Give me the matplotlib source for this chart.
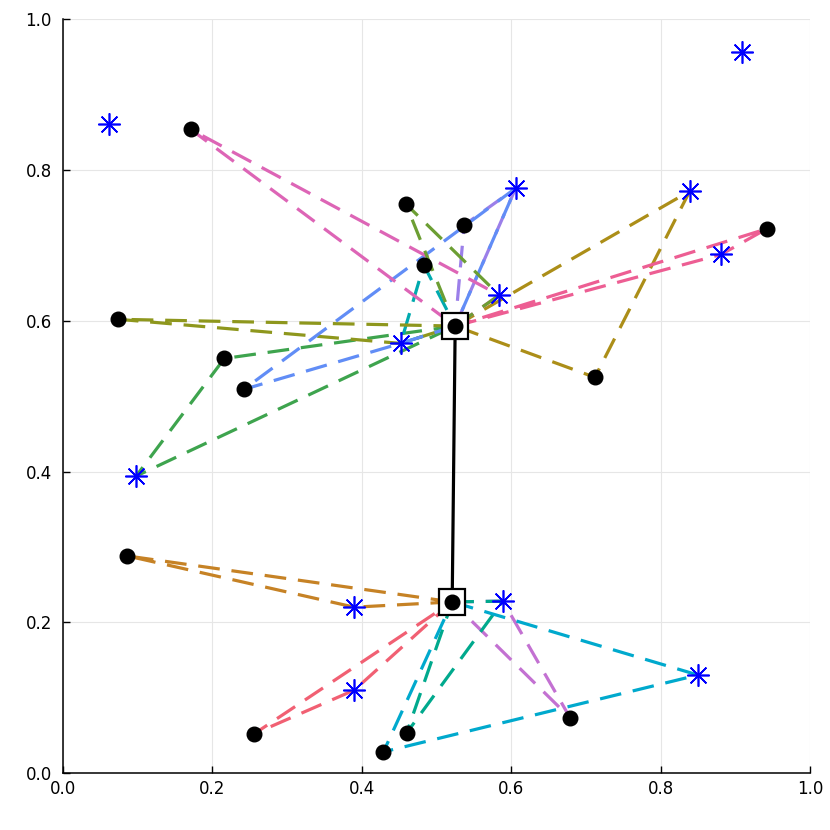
import matplotlib
matplotlib.use('Agg')
import matplotlib.pyplot as plt

# hubs (square markers)
hub_names = ['H1', 'H2']
hub_x = [0.525, 0.521]
hub_y = [0.593, 0.227]

# customers (black dots)
dot_names = ['D1', 'D2', 'D3', 'D4', 'D5', 'D6', 'D7', 'D8', 'D9', 'D10', 'D11', 'D12', 'D13', 'D14']
dot_x = [0.171, 0.459, 0.483, 0.537, 0.242, 0.712, 0.942, 0.216, 0.074, 0.086, 0.256, 0.460, 0.429, 0.679]
dot_y = [0.854, 0.755, 0.674, 0.727, 0.509, 0.525, 0.722, 0.550, 0.602, 0.288, 0.052, 0.053, 0.028, 0.073]

# stations (blue stars)
star_names = ['S0', 'S1', 'S2', 'S3', 'S4', 'S5', 'S6', 'S7', 'S8', 'S9', 'S10', 'S11']
star_x = [0.062, 0.909, 0.839, 0.606, 0.584, 0.452, 0.881, 0.098, 0.390, 0.390, 0.589, 0.850]
star_y = [0.861, 0.956, 0.772, 0.776, 0.634, 0.570, 0.688, 0.394, 0.220, 0.110, 0.228, 0.130]

# routes, in drawing order
routes = [
    ['H1', 'D8', 'S7', 'H1'],
    ['H2', 'S10', 'D14', 'H2'],
    ['H1', 'S2', 'D6', 'H1'],
    ['H1', 'S5', 'D3', 'H1'],
    ['H1', 'S6', 'D7', 'H1'],
    ['H2', 'S8', 'D10', 'H2'],
    ['H2', 'S10', 'D12', 'H2'],
    ['H1', 'D9', 'S5', 'H1'],
    ['H2', 'S11', 'D13', 'H2'],
    ['H1', 'S3', 'D4', 'H1'],
    ['H1', 'S5', 'D5', 'S3', 'H1'],
    ['H2', 'S9', 'D11', 'H2'],
    ['H1', 'S4', 'D1', 'H1'],
    ['H1', 'S4', 'D2', 'H1'],
]
route_colors = ['#3EA44E', '#C371D2', '#AC8E18', '#00AAAE', '#ED5E93', '#C68225', '#00A98D',
                '#8E971D', '#00A9CD', '#9B7FE9', '#618DF6', '#F16073', '#DD65B6', '#6C9E33']

pos = {}
for names, xs, ys in [(hub_names, hub_x, hub_y), (dot_names, dot_x, dot_y), (star_names, star_x, star_y)]:
    for n, x, y in zip(names, xs, ys):
        pos[n] = (x, y)

fig = plt.figure(figsize=(8.3, 8.3), dpi=100)
ax = fig.add_axes([0.0759, 0.0687, 0.9, 0.908])

for route, c in zip(routes, route_colors):
    xs = [pos[n][0] for n in route]
    ys = [pos[n][1] for n in route]
    ax.plot(xs, ys, color=c, lw=2.3, dashes=(6.8, 3.7), zorder=2)

# link between hubs
ax.plot(hub_x, hub_y, color='black', lw=2.3, zorder=3)

ax.plot(star_x, star_y, ls='none', marker=(8, 2, 0), ms=16, mew=1.2, color='#0000FF', zorder=4)
ax.plot(hub_x, hub_y, ls='none', marker='s', ms=19, mfc='white', mec='black', mew=1.6, zorder=4)
ax.plot(dot_x + hub_x, dot_y + hub_y, ls='none', marker='o', ms=10.5, color='black', zorder=5)

ax.set_xlim(0, 1)
ax.set_ylim(0, 1)
ax.set_xticks([0.0, 0.2, 0.4, 0.6, 0.8, 1.0])
ax.set_yticks([0.0, 0.2, 0.4, 0.6, 0.8, 1.0])
ax.grid(True, color='#e6e6e6', lw=0.8)
ax.set_axisbelow(True)
for s in ['top', 'right']:
    ax.spines[s].set_visible(False)
for s in ['left', 'bottom']:
    ax.spines[s].set_linewidth(1.1)
ax.tick_params(direction='in', length=5, width=1.0, labelsize=12)
ax.tick_params(axis='y', pad=8)
ax.tick_params(axis='x', pad=5)

fig.savefig('out.png', dpi=100)
